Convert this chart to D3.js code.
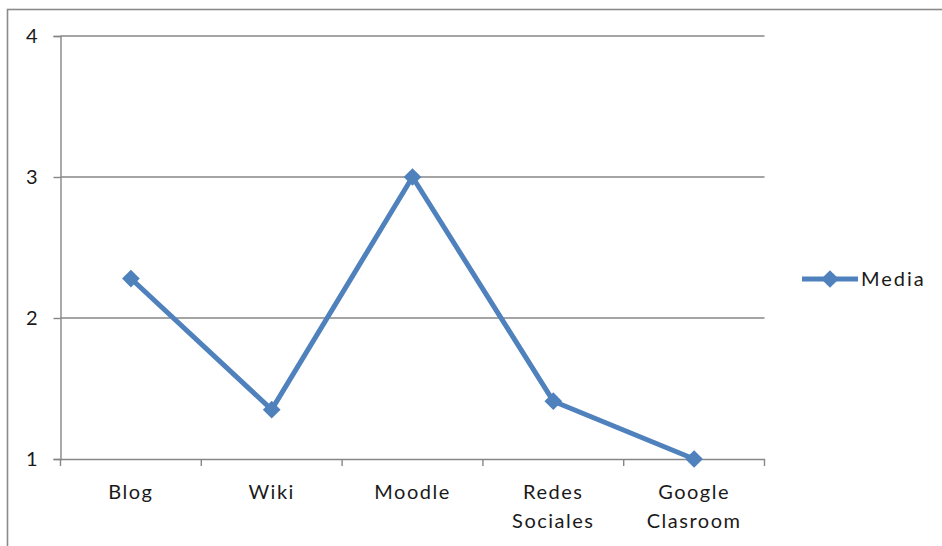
<!DOCTYPE html>
<html><head><meta charset="utf-8">
<script src="https://d3js.org/d3.v7.min.js"></script>
<style>html,body{margin:0;padding:0;background:#fff;}svg{display:block;}</style>
</head><body>
<script>
const categories = [["Blog"], ["Wiki"], ["Moodle"], ["Redes", "Sociales"], ["Google", "Clasroom"]];
const mediaValues = [2.28, 1.35, 3.0, 1.41, 1.0];
const yTicks = [1, 2, 3, 4];
const seriesName = "Media";

const W = 942, H = 546;
const m = {left: 60.5, top: 36, right: 764.5, bottom: 459};
const color = "#4F81BD";
const font = "Lato, 'Open Sans', sans-serif";

const svg = d3.select("body").append("svg").attr("width", W).attr("height", H);

// chart border
svg.append("rect").attr("x", 7.5).attr("y", 9.5).attr("width", 1200).attr("height", 1200)
  .attr("fill", "none").attr("stroke", "#8a8a8a").attr("stroke-width", 1.6);

const keys = categories.map(c => c.join(" "));
const x = d3.scaleBand().domain(keys).range([m.left, m.right]).padding(0);
const y = d3.scaleLinear().domain([1, 4]).range([m.bottom, m.top]);

// gridlines + y axis
const yAxis = d3.axisLeft(y).tickValues(yTicks).tickSize(7).tickPadding(15).tickFormat(d3.format("d"));
const gy = svg.append("g").attr("transform", `translate(${m.left},0)`).call(yAxis);
gy.select(".domain").attr("stroke", "#868686").attr("stroke-width", 1.4);
gy.selectAll(".tick line").attr("stroke", "#868686").attr("stroke-width", 1.4);
gy.selectAll(".tick text").attr("font-family", font).attr("font-size", 20).attr("fill", "#1a1a1a").attr("letter-spacing", 1);

svg.append("g").selectAll("line").data(yTicks.filter(t => t > 1)).join("line")
  .attr("x1", m.left).attr("x2", m.right)
  .attr("y1", d => y(d)).attr("y2", d => y(d))
  .attr("stroke", "#868686").attr("stroke-width", 1.4);

// x axis
const xAxis = d3.axisBottom(x).tickSize(0).tickFormat("");
const gx = svg.append("g").attr("transform", `translate(0,${m.bottom})`).call(xAxis);
gx.select(".domain").attr("stroke", "#868686").attr("stroke-width", 1.4);
gx.selectAll(".tick").remove();
const bounds = keys.map(k => x(k)).concat([x(keys[keys.length - 1]) + x.bandwidth()]);
gx.selectAll("line.xt").data(bounds).join("line").attr("class", "xt")
  .attr("x1", d => d).attr("x2", d => d).attr("y1", 0).attr("y2", 7)
  .attr("stroke", "#868686").attr("stroke-width", 1.4);

const lbl = svg.append("g");
categories.forEach((c, i) => {
  const cx = x(keys[i]) + x.bandwidth() / 2;
  const t = lbl.append("text").attr("text-anchor", "middle")
    .attr("font-family", font).attr("font-size", 20).attr("fill", "#1a1a1a").attr("letter-spacing", 1.5);
  c.forEach((line, j) => {
    t.append("tspan").attr("x", cx).attr("y", 499 + j * 29).text(line);
  });
});

// series line
const pts = mediaValues.map((v, i) => [x(keys[i]) + x.bandwidth() / 2, y(v)]);
svg.append("path").datum(pts).attr("d", d3.line())
  .attr("fill", "none").attr("stroke", color).attr("stroke-width", 5).attr("stroke-linejoin", "round");
const diamond = d3.symbol().type(d3.symbolDiamond2).size(200);
svg.append("g").selectAll("path").data(pts).join("path")
  .attr("d", diamond).attr("transform", d => `translate(${d[0]},${d[1]})`).attr("fill", color);

// legend
const ly = 279;
svg.append("line").attr("x1", 802).attr("x2", 858).attr("y1", ly).attr("y2", ly)
  .attr("stroke", color).attr("stroke-width", 5);
svg.append("path").attr("d", diamond).attr("transform", `translate(830,${ly})`).attr("fill", color);
svg.append("text").attr("x", 861).attr("y", ly + 7).attr("font-family", font).attr("font-size", 20)
  .attr("fill", "#1a1a1a").attr("letter-spacing", 2).text(seriesName);
</script>
</body></html>
